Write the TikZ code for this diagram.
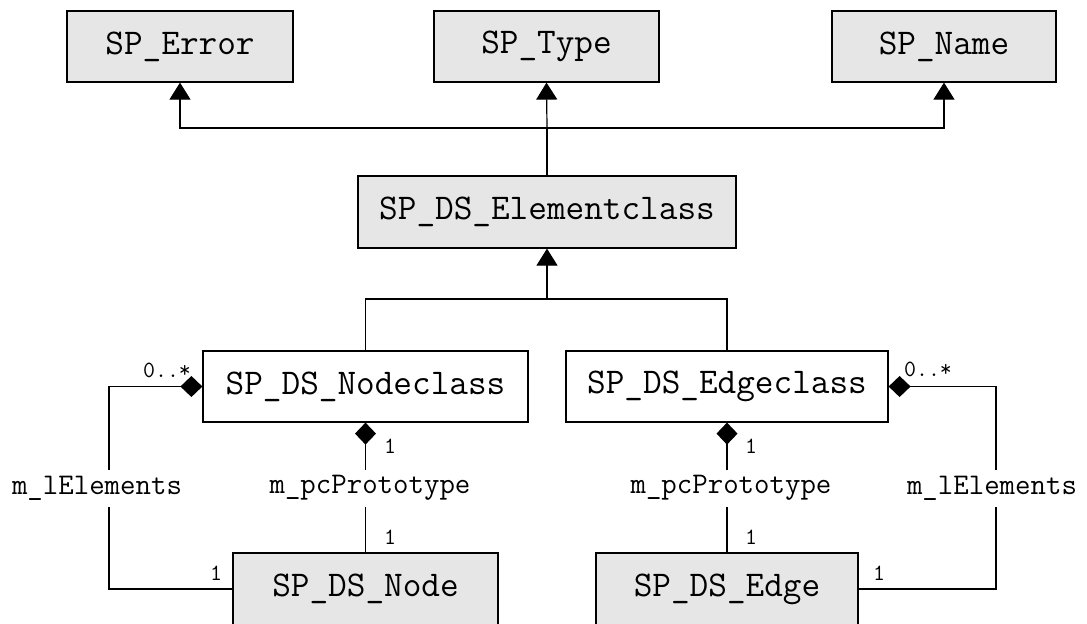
\documentclass[tikz,border=0pt]{standalone}
\usepackage{fontspec}
\usetikzlibrary{arrows.meta}
\definecolor{boxgray}{HTML}{E6E6E6}
\begin{document}
\begin{tikzpicture}[x=0.5pt,y=-0.5pt,
  cls/.style={draw=black, line width=0.6pt, inner sep=0pt,
    font=\ttfamily\fontsize{18.1}{20}\selectfont},
  graycls/.style={cls, fill=boxgray},
  gen/.style={line width=0.6pt, -{Triangle[length=8.5pt,width=10.5pt]}},
  agg/.style={line width=0.6pt, {Diamond[length=11pt,width=10.5pt]}-},
  role/.style={fill=white, inner xsep=1pt, inner ysep=0pt, minimum height=18.5pt,
    font=\ttfamily\fontsize{15}{17}\selectfont},
  mult/.style={inner sep=0pt, font=\ttfamily\fontsize{11.6}{13}\selectfont}
]
\useasboundingbox (0,0) rectangle (1087,623);

% classes
\node[graycls, minimum width=113pt, minimum height=35.5pt] (err)  at (180,46.5)   {SP\_Error};
\node[graycls, minimum width=112.5pt, minimum height=35.5pt] (type) at (546.5,46.5) {SP\_Type};
\node[graycls, minimum width=112pt, minimum height=35.5pt] (name) at (944,46.5)   {SP\_Name};
\node[graycls, minimum width=189pt, minimum height=36pt] (elem) at (547,212) {SP\_DS\_Elementclass};
\node[cls, fill=white, minimum width=162.5pt, minimum height=35.5pt] (ncls) at (365.5,386.5) {SP\_DS\_Nodeclass};
\node[cls, fill=white, minimum width=161pt, minimum height=35.5pt] (ecls) at (727,386.5) {SP\_DS\_Edgeclass};
\node[graycls, minimum width=132.5pt, minimum height=36pt] (node) at (365.5,589) {SP\_DS\_Node};
\node[graycls, minimum width=131pt, minimum height=36pt] (edge) at (727,589) {SP\_DS\_Edge};

% generalisation: Elementclass -> Error, Type, Name
\coordinate (hubtop) at (547,128);
\draw[line width=0.6pt] (elem.north) -- (hubtop);
\draw[gen] (hubtop) -| (err.south);
\draw[gen] (hubtop) -- (type.south);
\draw[gen] (hubtop) -| (name.south);

% generalisation: Nodeclass, Edgeclass -> Elementclass
\coordinate (hubmid) at (547,299);
\draw[line width=0.6pt] (ncls.north) |- (hubmid) -| (ecls.north);
\draw[gen] (hubmid) -- (elem.south);

% aggregations on the node side
\coordinate (nbend) at (109,589);
\draw[agg] (ncls.west) -| (nbend) -- (node.west);
\draw[agg] (ncls.south) -- (node.north);
\node[role] (nrole1) at (97,488) {m\_lElements};
\node[role] (nrole2) at (370,488) {m\_pcPrototype};
\node[mult] (nm1) at (167,370) {0..*};
\node[mult] (nm2) at (390,446) {1};
\node[mult] (nm3) at (390,537) {1};
\node[mult] (nm4) at (216,573) {1};

% aggregations on the edge side
\coordinate (ebend) at (996,589);
\draw[agg] (ecls.east) -| (ebend) -- (edge.east);
\draw[agg] (ecls.south) -- (edge.north);
\node[role] (erole1) at (992,488) {m\_lElements};
\node[role] (erole2) at (731,488) {m\_pcPrototype};
\node[mult] (em1) at (928,369) {0..*};
\node[mult] (em2) at (751,446) {1};
\node[mult] (em3) at (751,537) {1};
\node[mult] (em4) at (879,573) {1};
\end{tikzpicture}
\end{document}
